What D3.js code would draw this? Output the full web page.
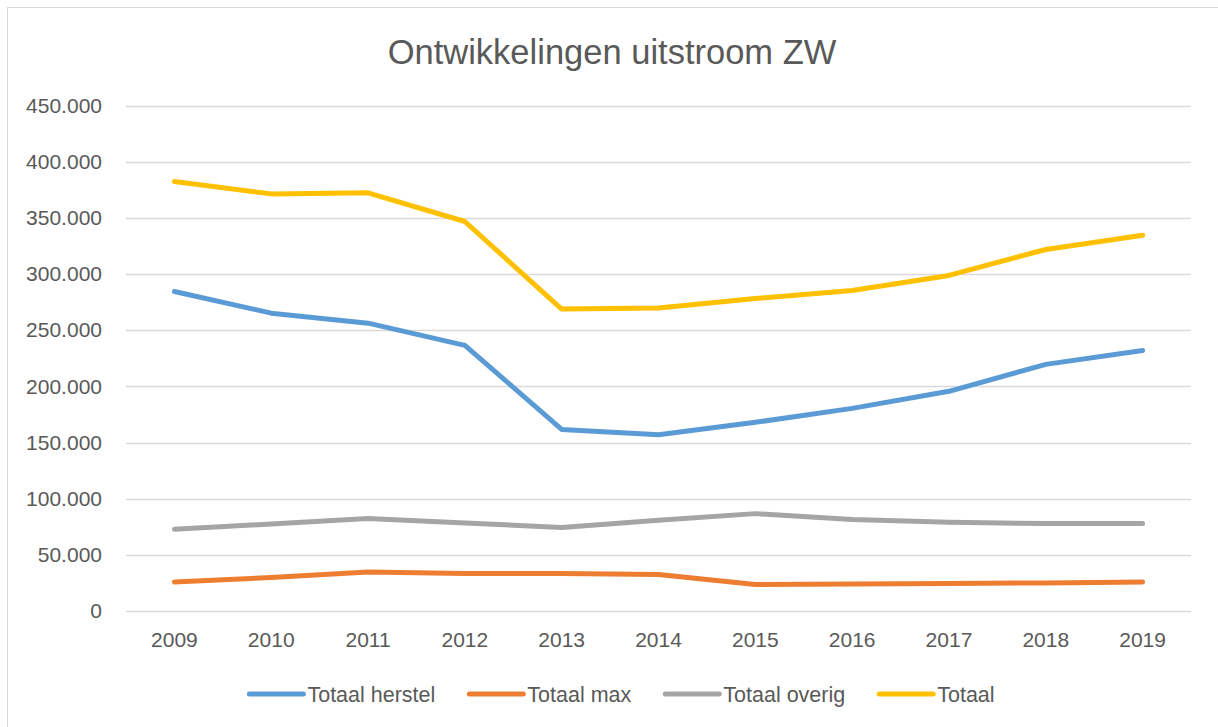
<!DOCTYPE html>
<html>
<head>
<meta charset="utf-8">
<script src="https://cdn.jsdelivr.net/npm/d3@7"></script>
<style>
  body { margin: 0; background: #fff; }
  svg { display: block; font-family: "Liberation Sans", Arial, sans-serif; }
</style>
</head>
<body>
<div id="chart"></div>
<script>
// data
const years = ['2009','2010','2011','2012','2013','2014','2015','2016','2017','2018','2019'];
const totaalHerstel = [284500, 265200, 256300, 236500, 161700, 157000, 168000, 180400, 195600, 219600, 232000];
const totaalMax     = [25900, 29800, 34800, 33400, 33400, 32500, 23600, 24100, 24500, 25000, 25900];
const totaalOverig  = [72800, 77500, 82300, 78400, 74300, 80800, 86700, 81400, 79000, 77800, 77800];
const totaal        = [382400, 371400, 372300, 346800, 268800, 269700, 278300, 285400, 298800, 321900, 334600];
const yTicks = [0, 50000, 100000, 150000, 200000, 250000, 300000, 350000, 400000, 450000];
const seriesNames = ['Totaal herstel', 'Totaal max', 'Totaal overig', 'Totaal'];
const seriesColors = ['#5B9BD5', '#ED7D31', '#A5A5A5', '#FFC000'];

const series = [totaalHerstel, totaalMax, totaalOverig, totaal];

const width = 1218, height = 727;
const margin = {top: 105.6, right: 27, bottom: 116, left: 126};
const textColor = '#595959';

const svg = d3.select('#chart').append('svg')
    .attr('width', width)
    .attr('height', height);

// chart frame (runs off the right and bottom of the picture)
svg.append('rect')
    .attr('x', 7.5).attr('y', 7.5)
    .attr('width', width + 10).attr('height', height + 10)
    .attr('fill', '#fff')
    .attr('stroke', '#D9D9D9');

svg.append('text')
    .attr('x', 612)
    .attr('y', 64)
    .attr('text-anchor', 'middle')
    .attr('fill', textColor)
    .attr('font-size', 34.5)
    .text('Ontwikkelingen uitstroom ZW');

const xScale = d3.scaleBand()
    .domain(years)
    .range([margin.left, width - margin.right])
    .padding(0);

const yScale = d3.scaleLinear()
    .domain([0, 450000])
    .range([height - margin.bottom, margin.top]);

const fmt = v => v === 0 ? '0' : d3.format(',')(v).replace(/,/g, '.');

// gridlines
svg.append('g')
    .selectAll('line')
    .data(yTicks).enter()
    .append('line')
    .attr('x1', margin.left)
    .attr('x2', width - margin.right)
    .attr('y1', d => Math.round(yScale(d)) + 0.5)
    .attr('y2', d => Math.round(yScale(d)) + 0.5)
    .attr('stroke', '#D9D9D9')
    .attr('stroke-width', 1.5);

// y axis labels
let yAxis = svg.append('g')
    .attr('transform', 'translate(' + 102 + ',0)')
    .call(d3.axisLeft(yScale).tickValues(yTicks).tickFormat(fmt).tickSize(0).tickPadding(0));
yAxis.select('.domain').remove();
yAxis.selectAll('text')
    .attr('fill', textColor)
    .attr('font-size', 21)
    .attr('font-family', '"Liberation Sans", Arial, sans-serif');

// x axis labels
let xAxis = svg.append('g')
    .attr('transform', 'translate(0,' + (height - margin.bottom) + ')')
    .call(d3.axisBottom(xScale).tickSize(0).tickPadding(21));
xAxis.select('.domain').remove();
xAxis.selectAll('text')
    .attr('fill', textColor)
    .attr('font-size', 21)
    .attr('font-family', '"Liberation Sans", Arial, sans-serif');

const line = d3.line()
    .x((d, i) => xScale(years[i]) + xScale.bandwidth() / 2)
    .y(d => yScale(d));

svg.append('g')
    .selectAll('path')
    .data(series).enter()
    .append('path')
    .attr('d', d => line(d))
    .attr('fill', 'none')
    .attr('stroke', (d, i) => seriesColors[i])
    .attr('stroke-width', 5)
    .attr('stroke-linecap', 'round')
    .attr('stroke-linejoin', 'round');

// legend
const legend = svg.append('g');
const legendY = 694;
const sampleW = 54, sampleGap = 4, entryGap = 34;
let items = legend.selectAll('g')
    .data(seriesNames).enter()
    .append('g');
items.append('line')
    .attr('x1', 0).attr('x2', sampleW)
    .attr('y1', 0).attr('y2', 0)
    .attr('stroke', (d, i) => seriesColors[i])
    .attr('stroke-width', 5)
    .attr('stroke-linecap', 'round');
items.append('text')
    .attr('x', sampleW + sampleGap)
    .attr('y', 7.5)
    .attr('fill', textColor)
    .attr('font-size', 21.5)
    .text(d => d);

let offsets = [], pos = 0;
items.each(function() {
    offsets.push(pos);
    let w = sampleW + sampleGap + this.querySelector('text').getComputedTextLength();
    pos += w + entryGap;
});
let total = pos - entryGap;
let startX = 622 - total / 2;
items.attr('transform', (d, i) => 'translate(' + (startX + offsets[i]) + ',' + legendY + ')');
</script>
</body>
</html>
